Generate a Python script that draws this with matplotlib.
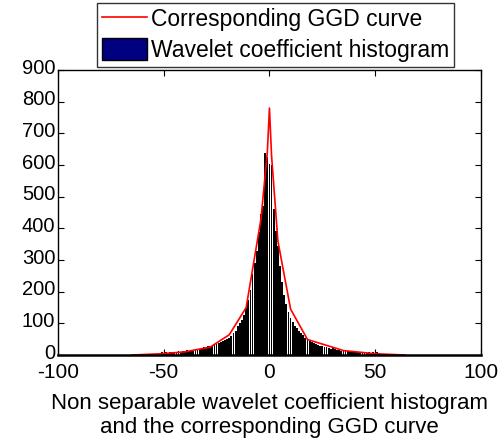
import matplotlib
matplotlib.use("Agg")
import matplotlib.pyplot as plt
import matplotlib.transforms as mtransforms
from matplotlib.patches import Patch
from matplotlib.lines import Line2D

plt.rcParams['font.family'] = ['Liberation Sans', 'DejaVu Sans']
plt.rcParams['axes.unicode_minus'] = False

# histogram of wavelet coefficients (bin centres and counts)
bin_centres = list(range(-51, 53))
counts = [8, 6, 9, 7, 10, 8, 11, 9, 12, 10, 13, 12, 15, 14, 17, 15, 18, 20, 19, 22,
          24, 23, 27, 29, 28, 33, 35, 38, 40, 43, 47, 52, 55, 60, 68, 76, 92, 100, 112, 125,
          150, 175, 205, 255, 290, 330, 390, 445, 470, 638, 624, 603, 600, 462, 392, 345,
          280, 230, 190, 160, 135, 118, 105, 92, 85, 75, 68, 62, 55, 48, 45, 40, 38, 35,
          33, 30, 28, 26, 24, 23, 20, 22, 18, 17, 16, 14, 13, 15, 12, 11, 12, 10, 9, 11,
          8, 10, 9, 7, 10, 6, 8, 7, 9, 5]

# fitted GGD curve
ggd_x = [-65, -51, -40, -28, -19, -11, -4, -1, 0, 1, 4, 10, 18, 35, 50, 64]
ggd_y = [0, 4, 10, 25, 64, 150, 430, 640, 780, 630, 360, 145, 49, 14, 4, 0]

fig = plt.figure(figsize=(5.01, 4.41), dpi=100)
ax = fig.add_axes([0.1158, 0.195, 0.844, 0.646])

ax.bar(bin_centres, counts, width=0.85, color='black', edgecolor='none')
ax.plot(ggd_x, ggd_y, color='red', lw=1.2)

ax.set_xlim(-100, 100)
ax.set_ylim(0, 900)
ax.set_xticks([-100, -50, 0, 50, 100])
ax.set_yticks(range(0, 901, 100))
ax.tick_params(direction='in', top=True, right=True, length=4)
ax.tick_params(axis='y', pad=2, labelsize=14.5)
ax.tick_params(axis='x', pad=5.5, labelsize=15)
for s in ax.spines.values():
    s.set_linewidth(1.0)
ax.spines['bottom'].set_linewidth(1.8)

# nudge the y labels up a little so "0" clears "-100"
up = mtransforms.ScaledTranslation(0, 4 / 100, fig.dpi_scale_trans)
for lab in ax.get_yticklabels():
    lab.set_transform(lab.get_transform() + up)

ax.set_xlabel("Non separable wavelet coefficient histogram\nand the corresponding GGD curve",
              fontsize=16, labelpad=8, linespacing=1.2)

handles = [Line2D([], [], color='red', lw=1.2),
           Patch(facecolor='#000080', edgecolor='black')]
labels = ["Corresponding GGD curve", "Wavelet coefficient histogram"]
leg = fig.legend(handles, labels, loc='upper left', bbox_to_anchor=(0.1936, 0.993),
                 bbox_transform=fig.transFigure, prop={'size': 16.5}, frameon=True,
                 fancybox=False, edgecolor='black', borderpad=0.2, handlelength=2.0,
                 handleheight=1.1, handletextpad=0.15, labelspacing=0.3, borderaxespad=0)
leg.get_frame().set_linewidth(1.0)

fig.savefig("out.png", dpi=100)
